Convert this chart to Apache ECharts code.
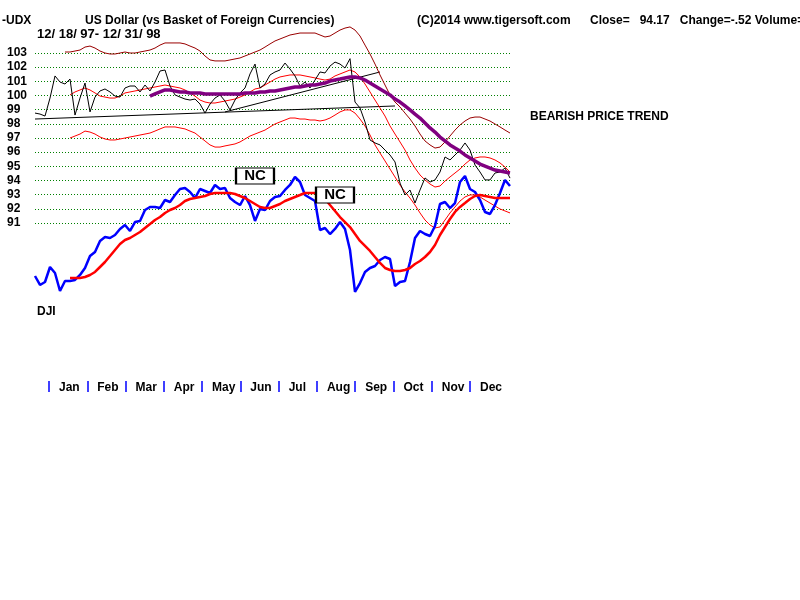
<!DOCTYPE html>
<html><head><meta charset="utf-8">
<script src="https://cdn.jsdelivr.net/npm/echarts@6/dist/echarts.min.js"></script>
<style>html,body{margin:0;padding:0;background:#fff}#c{width:800px;height:600px}</style>
</head><body><div id="c"></div>
<script>
const months = ['Jan','Feb','Mar','Apr','May','Jun','Jul','Aug','Sep','Oct','Nov','Dec'];

// UDX closes (sampled), 12/18/97 - 12/31/98
const udxClose = [
 98.76, 98.69, 98.55, 99.82, 101.38, 100.95, 100.81, 101.16, 98.62, 99.82,
 100.88, 98.84, 99.89, 100.32, 100.46, 100.25, 99.96, 99.89, 100.53, 100.67,
 100.67, 100.25, 100.74, 100.32, 100.95, 101.73, 101.80, 100.67, 100.04, 99.89,
 99.75, 99.68, 99.75, 99.40, 98.76, 99.40, 99.82, 100.04, 99.61, 98.98,
 99.68, 100.18, 100.53, 101.52, 102.22, 100.53, 100.81, 101.45, 101.66, 101.80,
 102.29, 101.87, 101.38, 100.67, 100.95, 100.53, 101.09, 101.66, 101.59, 102.08,
 102.36, 102.22, 101.94, 102.60, 99.54, 99.12, 98.13, 96.86, 96.65, 96.51,
 96.15, 95.80, 95.31, 93.82, 92.98, 93.33, 92.41, 93.33, 94.18, 93.89,
 94.04, 94.60, 95.66, 95.45, 95.80, 96.15, 96.65, 96.15, 95.09, 94.60,
 94.04, 94.04, 94.53, 94.60, 94.88, 94.17];

const upperBand = [null,null,null,null,null,null,
 103.07, 103.07, 103.14, 103.21, 103.42, 103.49, 103.35, 103.14, 103.00, 102.93,
 102.93, 103.00, 103.07, 103.00, 103.00, 103.07, 103.14, 103.21, 103.35, 103.56,
 103.71, 103.71, 103.71, 103.71, 103.64, 103.49, 103.35, 103.14, 102.79, 102.51,
 102.44, 102.44, 102.44, 102.51, 102.58, 102.65, 102.79, 102.93, 103.07, 103.21,
 103.42, 103.64, 103.85, 103.99, 104.13, 104.27, 104.34, 104.41, 104.41, 104.41,
 104.41, 104.27, 104.13, 104.20, 104.41, 104.62, 104.76, 104.84, 104.62, 104.20,
 103.56, 102.93, 102.22, 101.45, 100.74, 100.04, 99.54, 99.19, 98.76, 98.34,
 97.85, 97.28, 96.79, 96.51, 96.29, 96.36, 96.72, 97.14, 97.56, 97.92,
 98.20, 98.41, 98.48, 98.48, 98.34, 98.20, 97.99, 97.78, 97.56, 97.35];

const midBand = [null,null,null,null,null,null,null,
 100.04, 100.25, 100.39, 100.53, 100.39, 100.18, 99.96, 99.89, 99.82, 99.82,
 99.96, 100.18, 100.25, 100.32, 100.39, 100.46, 100.53, 100.60, 100.67, 100.74,
 100.67, 100.60, 100.53, 100.39, 100.18, 99.96, 99.68, 99.54, 99.47, 99.47,
 99.54, 99.61, 99.68, 99.75, 99.89, 100.04, 100.25, 100.46, 100.53, 100.74,
 100.95, 101.16, 101.31, 101.38, 101.45, 101.45, 101.45, 101.38, 101.31, 101.24,
 101.16, 101.09, 101.16, 101.38, 101.52, 101.66, 101.80, 101.66, 101.31, 100.81,
 100.25, 99.68, 99.12, 98.55, 97.85, 97.28, 96.72, 96.15, 95.45, 94.88,
 94.39, 94.04, 93.75, 93.54, 93.61, 93.96, 94.25, 94.53, 94.81, 95.16,
 95.45, 95.59, 95.66, 95.66, 95.59, 95.45, 95.24, 94.95, 94.60];

const lowerBand = [null,null,null,null,null,null,null,
 97.00, 97.14, 97.28, 97.49, 97.42, 97.28, 97.07, 96.93, 96.86, 96.86,
 96.93, 97.00, 97.07, 97.14, 97.21, 97.28, 97.35, 97.49, 97.64, 97.78,
 97.78, 97.78, 97.71, 97.64, 97.49, 97.35, 97.07, 96.79, 96.51, 96.36,
 96.36, 96.44, 96.51, 96.58, 96.72, 96.93, 97.14, 97.28, 97.42, 97.56,
 97.78, 97.99, 98.13, 98.27, 98.41, 98.41, 98.34, 98.34, 98.27, 98.27,
 98.20, 98.27, 98.41, 98.62, 98.84, 98.98, 98.98, 98.76, 98.34, 97.85,
 97.21, 96.51, 95.94, 95.38, 94.81, 94.25, 93.68, 93.19, 92.76, 92.27,
 91.71, 91.21, 90.86, 90.65, 90.72, 91.21, 91.71, 92.13, 92.55, 92.84,
 92.98, 92.98, 92.84, 92.62, 92.41, 92.20, 91.99, 91.85, 91.71];

const longMA = [null,null,null,null,null,null,null,null,null,null,
 null,null,null,null,null,null,null,null,null,null,null,null,null,
 99.96, 100.11, 100.25, 100.39, 100.39, 100.32, 100.25, 100.25, 100.18, 100.18,
 100.18, 100.11, 100.11, 100.11, 100.11, 100.11, 100.11, 100.11, 100.11, 100.18,
 100.18, 100.18, 100.25, 100.25, 100.32, 100.32, 100.39, 100.46, 100.53, 100.60,
 100.60, 100.67, 100.74, 100.74, 100.81, 100.88, 101.02, 101.09, 101.16, 101.24,
 101.31, 101.31, 101.24, 101.09, 100.88, 100.67, 100.46, 100.25, 100.04, 99.75,
 99.54, 99.26, 98.98, 98.69, 98.41, 98.06, 97.71, 97.42, 97.07, 96.79,
 96.51, 96.29, 96.08, 95.80, 95.59, 95.38, 95.16, 95.02, 94.88, 94.74,
 94.67, 94.60, 94.53];

// trendlines: [startIndex, startValue, endIndex, endValue]
const trendA = [0, 98.34, 72, 99.26];
const trendB = [38, 98.84, 69, 101.66];

const dji = [
 7813, 7675, 7721, 7952, 7859, 7582, 7736, 7736, 7752, 7829,
 7937, 8121, 8183, 8353, 8414, 8399, 8445, 8538, 8599, 8507,
 8645, 8661, 8830, 8877, 8877, 8861, 8984, 8954, 9061, 9154,
 9169, 9108, 9015, 9154, 9123, 9092, 9216, 9154, 9169, 9015,
 8954, 8907, 9046, 8907, 8661, 8846, 8830, 8969, 9031, 9046,
 9139, 9216, 9339, 9262, 9061, 9015, 8969, 8522, 8553, 8460,
 8538, 8645, 8538, 8214, 7567, 7705, 7875, 7937, 7967, 8060,
 8106, 8075, 7659, 7721, 7736, 8029, 8399, 8507, 8460, 8430,
 8584, 8923, 8954, 8861, 8938, 9262, 9354, 9154, 9108, 8984,
 8800, 8769, 8907, 9092, 9293, 9200];

const djiMA = [null,null,null,null,null,null,null,
 7782, 7782, 7782, 7798, 7829, 7875, 7952, 8029, 8121, 8214,
 8306, 8368, 8399, 8445, 8491, 8553, 8615, 8676, 8722, 8784,
 8830, 8861, 8907, 8969, 9000, 9015, 9031, 9046, 9077, 9092,
 9092, 9092, 9092, 9077, 9046, 9015, 8969, 8923, 8877, 8861,
 8861, 8892, 8923, 8969, 9000, 9031, 9061, 9092, 9092, 9092,
 9061, 9000, 8907, 8815, 8722, 8645, 8568, 8460, 8353, 8276,
 8199, 8106, 8014, 7937, 7906, 7890, 7890, 7906, 7937, 7998,
 8044, 8106, 8183, 8291, 8445, 8568, 8692, 8800, 8877, 8938,
 9000, 9046, 9061, 9046, 9031, 9015, 9015, 9015, 9015];

// NC annotations: [index, value]
const ncMarks = [[44, 94.32], [60, 92.98]];

const idx = udxClose.map((_, i) => i);
function seg(t) { return idx.map(i => i === t[0] ? t[1] : (i === t[2] ? t[3] : null)); }

const FF = '"Liberation Sans", Arial, sans-serif';
const ts = { fontFamily: FF, fontWeight: 'bold', fontSize: 12, color: '#000' };
function T(text, left, top, extra) {
  return { text, left, top, padding: 0, textStyle: Object.assign({}, ts, extra || {}) };
}
function line(data, color, width, yi, extra) {
  return Object.assign({ type: 'line', data, yAxisIndex: yi || 0, symbol: 'none', clip: false,
    connectNulls: false, lineStyle: { color, width }, silent: true }, extra || {});
}

const chart = echarts.init(document.getElementById('c'), null, { renderer: 'canvas' });
chart.setOption({
  animation: false,
  backgroundColor: '#fff',
  title: [
    T('-UDX', 2, 15),
    T('US Dollar (vs Basket of Foreign Currencies)', 85, 15),
    T('12/ 18/ 97- 12/ 31/ 98', 37, 28, { fontSize: 13 }),
    T('(C)2014 www.tigersoft.com', 417, 15),
    T('Close=   94.17   Change=-.52 Volume=', 590, 15),
    T('BEARISH PRICE TREND', 530, 111),
    T('DJI', 37, 306)
  ],
  grid: [
    { left: 35, width: 475, top: 53, height: 170 },
    { left: 49, width: 421, top: 370, height: 11 }
  ],
  xAxis: [
    { type: 'category', gridIndex: 0, data: idx, boundaryGap: false, show: false },
    { type: 'category', gridIndex: 1, data: months, boundaryGap: false,
      axisLine: { show: false },
      axisTick: { show: true, interval: 0, length: 11, lineStyle: { color: '#0000ff', width: 1.5 } },
      axisLabel: Object.assign({ interval: 0, margin: 1, align: 'left', padding: [0, 0, 0, 10] }, ts),
      splitLine: { show: false } }
  ],
  yAxis: [
    { type: 'value', gridIndex: 0, min: 91, max: 103, interval: 1,
      axisLine: { show: false }, axisTick: { show: false },
      axisLabel: Object.assign({ align: 'left', margin: 28 }, ts),
      splitLine: { show: true, lineStyle: { color: '#008000', type: [1, 2], width: 1 } } },
    { type: 'value', gridIndex: 0, min: 8630, max: 11250, show: false, splitLine: { show: false } },
    { type: 'value', gridIndex: 1, show: false, splitLine: { show: false } }
  ],
  series: [
    line(seg(trendA), '#000', 1, 0, { connectNulls: true }),
    line(seg(trendB), '#000', 1, 0, { connectNulls: true }),
    line(upperBand, '#990000', 1),
    line(lowerBand, '#ff0000', 1),
    line(midBand, '#ff0000', 1),
    line(udxClose, '#000', 1),
    line(longMA, '#800080', 3.5),
    line(dji, '#0000ff', 2.5, 1),
    line(djiMA, '#ff0000', 2.5, 1),
    line(udxClose.map(() => null), '#000', 1, 0, {
      markPoint: {
        z: 10,
        symbol: 'rect', symbolSize: [38, 16],
        itemStyle: { color: '#fff', borderColor: '#000', borderWidth: 1.5 },
        label: { show: true, position: 'inside', formatter: 'NC', fontFamily: FF, fontWeight: 'bold', fontSize: 15, color: '#000' },
        data: ncMarks.map(m => ({ coord: [m[0], m[1]] }))
      }
    })
  ]
});
</script>
</body></html>
